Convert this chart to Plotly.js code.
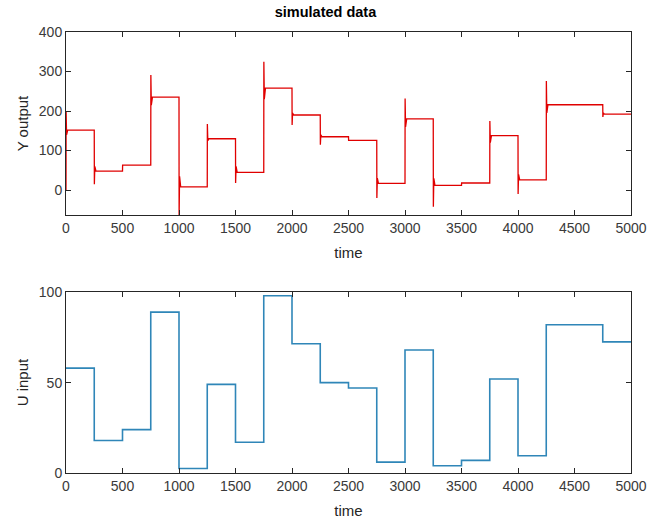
<!DOCTYPE html>
<html>
<head>
<meta charset="utf-8">
<script src="https://cdn.plot.ly/plotly-3.0.1.min.js"></script>
<style>html,body{margin:0;padding:0;background:#fff;}#chart{width:651px;height:522px;}</style>
</head>
<body>
<div id="chart"></div>
<script>
// Step start times (each segment lasts 250 time units)
const segStart = [0,250,500,750,1000,1250,1500,1750,2000,2250,2500,2750,3000,3250,3500,3750,4000,4250,4500,4750];
const endTime = 5000;
// U input level per segment
const uLevels = [58,18,24,89,2.5,49,17,98,71.5,50,47,6,68,4,7,52,9.5,82,82,72.5];
// Y output: initial value, settled level, first transient extreme, rebound
const yStart = 0;
const yLevels = [152,48,63,235,8,130,45,258,190,135,126,17,180,12,18,138,26,216,216,192];
const yPeak = [200,15,63,291,-70,167,18,325,165,115,126,-20,232,-42,18,175,-10,276,216,185];
const yRebound = [140,60,63,215,35,125,60,230,195,140,126,30,160,30,18,120,40,195,216,195];
const xTicks = [0,500,1000,1500,2000,2500,3000,3500,4000,4500,5000];

// Build traces
const yx = [0], yy = [yStart];
for (let i = 0; i < segStart.length; i++) {
  const t = segStart[i];
  const tn = i + 1 < segStart.length ? segStart[i + 1] : endTime;
  yx.push(t + 1, t + 5, t + 15, tn);
  yy.push(yPeak[i], yRebound[i], yLevels[i], yLevels[i]);
}
const ux = segStart.concat([endTime]);
const uy = uLevels.concat([uLevels[uLevels.length - 1]]);

const FONT = 'Liberation Sans, Arial, sans-serif';
const axColor = '#262626';
const tickFont = {family: FONT, size: 14, color: '#3a3a3a'};
const titleFont = {family: FONT, size: 15, color: '#262626'};
const common = {
  showline: true, linecolor: axColor, linewidth: 1, mirror: 'ticks',
  ticks: 'inside', ticklen: 5, tickcolor: axColor, showgrid: false, zeroline: false,
  tickfont: tickFont
};

const traces = [
  {x: yx, y: yy, type: 'scatter', mode: 'lines', line: {color: '#e00000', width: 1.3}, xaxis: 'x', yaxis: 'y', hoverinfo: 'skip'},
  {x: ux, y: uy, type: 'scatter', mode: 'lines', line: {color: '#2f86b8', width: 1.6, shape: 'hv'}, xaxis: 'x2', yaxis: 'y2', hoverinfo: 'skip'}
];

const layout = {
  width: 651, height: 522,
  margin: {l: 66, r: 20, t: 32, b: 49},
  paper_bgcolor: '#ffffff', plot_bgcolor: '#ffffff',
  showlegend: false,
  font: {family: FONT, color: '#262626'},
  title: {text: '<b>simulated data</b>', font: {size: 14.5, color: '#000000', family: FONT}, x: 0.5, xanchor: 'center', y: 0.977, yanchor: 'middle'},
  xaxis: Object.assign({}, common, {domain: [0, 1], anchor: 'y', range: [0, 5000], tickvals: xTicks,
    title: {text: 'time', font: titleFont, standoff: 12}}),
  yaxis: Object.assign({}, common, {domain: [0.585, 1], anchor: 'x', range: [-63, 400], tickvals: [0,100,200,300,400],
    title: {text: 'Y output', font: titleFont, standoff: 6}}),
  xaxis2: Object.assign({}, common, {domain: [0, 1], anchor: 'y2', range: [0, 5000], tickvals: xTicks,
    title: {text: 'time', font: titleFont, standoff: 12}}),
  yaxis2: Object.assign({}, common, {domain: [0, 0.41], anchor: 'x2', range: [0, 100], tickvals: [0,50,100],
    title: {text: 'U input', font: titleFont, standoff: 6}})
};

Plotly.newPlot('chart', traces, layout, {staticPlot: true, displayModeBar: false});
</script>
</body>
</html>
